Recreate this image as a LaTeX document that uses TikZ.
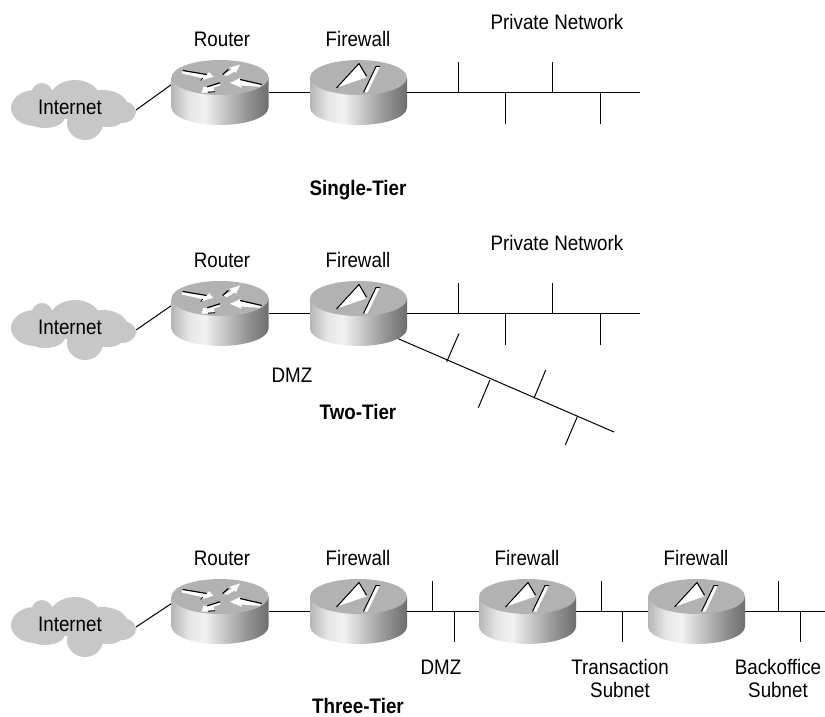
\documentclass[tikz,border=0pt]{standalone}
\usepackage{fontspec}
\setmainfont[FakeStretch=0.895]{Liberation Sans}
\pgfdeclarehorizontalshading{cylshade}{100bp}{
  color(0bp)=(black!58); color(14bp)=(black!52); color(34bp)=(black!10);
  color(42bp)=(black!5); color(64bp)=(black!42);
  color(86bp)=(black!72); color(100bp)=(black!76)}
\tikzset{
  x=1pt,y=-1pt,
  devbox/.style={minimum width=97pt,minimum height=65pt,inner sep=0pt,outer sep=0pt},
  cloudbox/.style={minimum width=125pt,minimum height=60pt,inner sep=0pt,outer sep=0pt},
  lbl/.style={font=\fontsize{21}{23}\selectfont,align=center,inner sep=0pt,text=black},
  ttl/.style={font=\fontsize{21}{23}\selectfont\bfseries,inner sep=0pt,text=black},
  wire/.style={draw=black,line width=1pt},
  cylbody/.pic={
    \shade[shading=cylshade] (-48.5,-15) -- (-48.5,15) arc[start angle=180,end angle=0,x radius=48.5,y radius=17.5] -- (48.5,-15) -- cycle;
    \fill[black!30] (0,-15) ellipse[x radius=48.5,y radius=17.5];
  },
  routerpic/.pic={
    \pic {cylbody};
    \fill[white] (-38.3,-19) -- (-37.3,-22) -- (-13.3,-18) -- (-10.7,-20.3) -- (-6.7,-15.7) -- (-19.3,-12) -- (-17.3,-14.3) -- cycle;
    \draw[black,line width=1.2pt] (-37.3,-22) -- (-13.3,-18);
    \draw[black,line width=.8pt] (-19.3,-12) -- (-17.3,-14.3);
    \fill[white] (20,-28) -- (9.3,-24.7) -- (12,-23) -- (3,-18) -- (7,-16.5) -- (14.5,-21) -- (16,-19.7) -- cycle;
    \draw[black,line width=1.2pt] (2.7,-18) -- (8.3,-23);
    \fill[white] (10,-9.7) -- (20.7,-14.7) -- (20,-13) -- (41.7,-8) -- (40,-5.7) -- (20.7,-7) -- (21.7,-4.7) -- cycle;
    \draw[black,line width=1.2pt] (20,-13) -- (41.7,-8);
    \fill[white] (-18.3,.3) -- (-16.7,-5.7) -- (-12.7,-5.7) -- (0,-9.7) -- (0,-7) -- (-6.7,-4.7) -- (-5,-.3) -- cycle;
    \draw[black,line width=1.2pt] (-12.7,-5.7) -- (0,-9.7);
    \draw[black,line width=1pt] (-12,-.3) -- (-5,-.8);
  },
  firewallpic/.pic={
    \pic {cylbody};
    \fill[white] (-21.5,-5) -- (0.5,-28.5) -- (7.5,-15) -- cycle;
    \draw[black,line width=1pt] (-22,-4.5) -- (0.5,-29) -- (8,-16.5);
    \fill[white] (5,0) -- (17.5,-26) -- (21.5,-26) -- (9,0) -- cycle;
    \draw[black,line width=1pt] (5,0) -- (17.5,-26) -- (21.5,-26);
  },
  cloudpic/.pic={
    \fill[black!22] (-35,1) ellipse[x radius=24,y radius=18]
      (-28,-12) ellipse[x radius=11,y radius=12]
      (5,-7) ellipse[x radius=26,y radius=20]
      (33,0) ellipse[x radius=25,y radius=17]
      (52,5) ellipse[x radius=14,y radius=11]
      (15,16) ellipse[x radius=18,y radius=17]
      (-25,10) ellipse[x radius=20,y radius=11]
      (38,11) ellipse[x radius=16,y radius=9];
  }
}
\newcommand{\headrow}[3]{% prefix, y-offset for cloud, y-offset for devices
  \node[cloudbox] (#1c) at (73.5,110+#2) {};
  \node[devbox] (#1r) at (220,92.5+#3) {};
  \node[devbox] (#1f) at (358.5,92.5+#3) {};
  \draw[wire] (#1c.east) -- ([yshift=8pt]#1r.west);
  \draw[wire] (#1r.east) -- (#1f.west);
  \pic at (70,107+#2) {cloudpic};
  \pic at (#1r) {routerpic};
  \pic at (#1f) {firewallpic};
  \node[lbl] (#1it) at (70,107+#2) {Internet};
  \node[lbl] (#1rl) at (222,39+#3) {Router};
  \node[lbl] (#1fl) at (358,39+#3) {Firewall};
}
\begin{document}
\begin{tikzpicture}
\useasboundingbox (0,0) rectangle (825,717);
% ---- single tier
\coordinate (aend) at (640,92.5);
\coordinate (at1) at (458,62); \coordinate (at2) at (505,124);
\coordinate (at3) at (552,62); \coordinate (at4) at (600,124);
\headrow{a}{0}{0}
\draw[wire] (af.east) -- (aend);
\foreach \t in {at1,at2,at3,at4} \draw[wire] (\t) -- (\t |- aend);
\node[lbl] (apn) at (557,22) {Private Network};
\node[ttl] (at) at (358,190) {Single-Tier};
% ---- two tier
\coordinate (bend) at (640,313.5);
\coordinate (bt1) at (458,283); \coordinate (bt2) at (505,345);
\coordinate (bt3) at (552,283); \coordinate (bt4) at (600,345);
\coordinate (dstart) at (385,333); \coordinate (dend) at (614,432);
\coordinate (d1a) at (459,333.5); \coordinate (d1b) at (446.7,361.7);
\coordinate (d2a) at (490,380); \coordinate (d2b) at (478.3,407.7);
\coordinate (d3a) at (545.7,370); \coordinate (d3b) at (534,398.3);
\coordinate (d4a) at (577.3,416.7); \coordinate (d4b) at (565.3,445);
\draw[wire] (dstart) -- (dend);
\draw[wire] (d1a) -- (d1b);
\draw[wire] (d2a) -- (d2b);
\draw[wire] (d3a) -- (d3b);
\draw[wire] (d4a) -- (d4b);
\headrow{b}{220}{221}
\draw[wire] (bf.east) -- (bend);
\foreach \t in {bt1,bt2,bt3,bt4} \draw[wire] (\t) -- (\t |- bend);
\node[lbl] (bpn) at (557,243) {Private Network};
\node[lbl] (bdmz) at (292,375) {DMZ};
\node[ttl] (bt) at (358,412) {Two-Tier};
% ---- three tier
\headrow{c}{517}{519}
\node[devbox] (cf2) at (527.5,611.5) {};
\node[devbox] (cf3) at (696.5,611.5) {};
\coordinate (cend) at (825,611.5);
\draw[wire] (cf.east) -- (cf2.west);
\draw[wire] (cf2.east) -- (cf3.west);
\draw[wire] (cf3.east) -- (cend);
\pic at (cf2) {firewallpic};
\pic at (cf3) {firewallpic};
\coordinate (ct1) at (432,581); \coordinate (ct2) at (454,642);
\coordinate (ct3) at (601,581); \coordinate (ct4) at (622,642);
\coordinate (ct5) at (778,581); \coordinate (ct6) at (800,642);
\foreach \t in {ct1,ct2,ct3,ct4,ct5,ct6} \draw[wire] (\t) -- (\t |- cend);
\node[lbl] (cfl2) at (527,558) {Firewall};
\node[lbl] (cfl3) at (696,558) {Firewall};
\node[lbl] (cdmz) at (441,667) {DMZ};
\node[lbl] (ctx) at (620,678) {Transaction\\Subnet};
\node[lbl] (cbo) at (778,678) {Backoffice\\Subnet};
\node[ttl] (ct) at (358,706) {Three-Tier};
\end{tikzpicture}
\end{document}
